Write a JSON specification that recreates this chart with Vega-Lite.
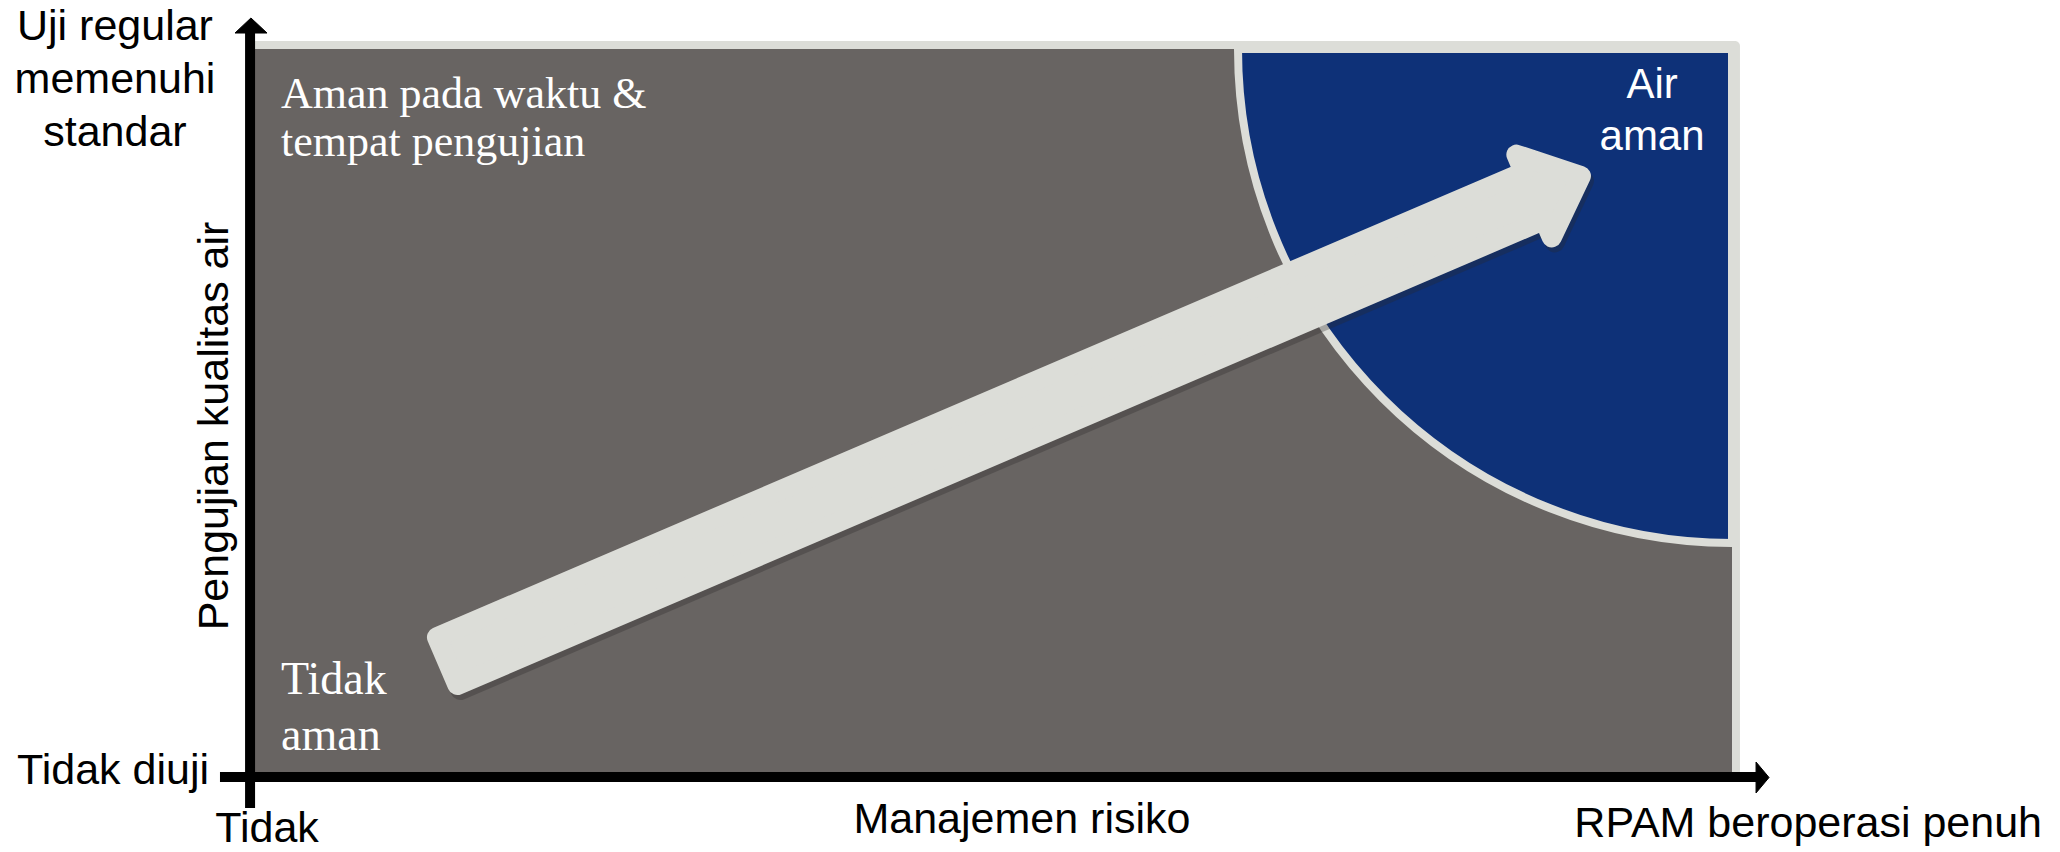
{
  "$schema": "https://vega.github.io/schema/vega-lite/v6.json",
  "width": 1475,
  "height": 723,
  "autosize": {"type": "none"},
  "padding": {"left": 257, "top": 49, "right": 328, "bottom": 80},
  "background": "#ffffff",
  "config": {"view": {"stroke": null}},
  "datasets": {
    "arrow": [
      {"i": 1, "x": 12.20, "y": 18.64},
      {"i": 2, "x": 85.88, "y": 82.97},
      {"i": 3, "x": 85.38, "y": 85.39},
      {"i": 4, "x": 89.76, "y": 82.45},
      {"i": 5, "x": 87.78, "y": 73.94},
      {"i": 6, "x": 87.27, "y": 76.36},
      {"i": 7, "x": 13.59, "y": 12.03}
    ]
  },
  "encoding": {
    "x": {"field": "x", "type": "quantitative", "scale": {"domain": [0, 100], "nice": false, "zero": false}, "axis": null},
    "y": {"field": "y", "type": "quantitative", "scale": {"domain": [0, 100], "nice": false, "zero": false}, "axis": null}
  },
  "layer": [
    {
      "data": {"values": [{"x": -0.47, "x2": 100.54, "y": -0.7, "y2": 101.11}]},
      "mark": {"type": "rect", "color": "#dcddd8", "cornerRadius": 5},
      "encoding": {"x2": {"field": "x2"}, "y2": {"field": "y2"}}
    },
    {
      "data": {"values": [{"x": -0.47, "x2": 100, "y": -0.7, "y2": 100}]},
      "mark": {"type": "rect", "color": "#686462"},
      "encoding": {"x2": {"field": "x2"}, "y2": {"field": "y2"}}
    },
    {
      "data": {"values": [{"x": 100, "y": 100}]},
      "mark": {"type": "arc", "theta": 3.14159, "theta2": 4.71239, "radius": 494, "fill": "#0e3178", "stroke": "#dcddd8", "strokeWidth": 8},
      "encoding": {}
    },
    {
      "data": {"name": "arrow"},
      "mark": {"type": "line", "filled": true, "interpolate": "linear-closed", "fill": "#2a2828", "stroke": "#2a2828", "strokeWidth": 20, "strokeJoin": "round", "opacity": 0.3, "xOffset": 3, "yOffset": 5},
      "encoding": {"order": {"field": "i", "type": "quantitative"}}
    },
    {
      "data": {"name": "arrow"},
      "mark": {"type": "line", "filled": true, "interpolate": "linear-closed", "fill": "#dcddd8", "stroke": "#dcddd8", "strokeWidth": 20, "strokeJoin": "round"},
      "encoding": {"order": {"field": "i", "type": "quantitative"}}
    },
    {
      "data": {"values": [
        {"x": -2.51, "y": -0.69, "x2": 101.7, "y2": -0.69},
        {"x": -0.47, "y": -4.98, "x2": -0.47, "y2": 102.3}
      ]},
      "mark": {"type": "rule", "color": "#000000", "strokeWidth": 10},
      "encoding": {"x2": {"field": "x2"}, "y2": {"field": "y2"}}
    },
    {
      "data": {"values": [
        {"g": "y", "i": 1, "x": -1.49, "y": 102.21},
        {"g": "y", "i": 2, "x": 0.68, "y": 102.21},
        {"g": "y", "i": 3, "x": -0.41, "y": 104.29},
        {"g": "x", "i": 1, "x": 101.63, "y": 1.38},
        {"g": "x", "i": 2, "x": 101.63, "y": -2.9},
        {"g": "x", "i": 3, "x": 102.51, "y": -0.76}
      ]},
      "mark": {"type": "line", "filled": true, "interpolate": "linear-closed", "fill": "#000000", "stroke": "#000000", "strokeWidth": 1},
      "encoding": {"detail": {"field": "g"}, "order": {"field": "i", "type": "quantitative"}}
    },
    {
      "data": {"values": [
        {"t": "Uji regular\nmemenuhi\nstandar", "x": -9.63, "y": 101.24},
        {"t": "Manajemen risiko", "x": 51.86, "y": -8.44},
        {"t": "Tidak", "x": 0.68, "y": -9.68}
      ]},
      "mark": {"type": "text", "font": "Liberation Sans", "fontSize": 43, "align": "center", "baseline": "alphabetic", "lineBreak": "\n", "lineHeight": 53, "color": "#000000"},
      "encoding": {"text": {"field": "t"}}
    },
    {
      "data": {"values": [
        {"t": "Tidak diuji", "x": -3.25, "y": -1.66},
        {"t": "RPAM beroperasi penuh", "x": 121.02, "y": -8.99}
      ]},
      "mark": {"type": "text", "font": "Liberation Sans", "fontSize": 43, "align": "right", "baseline": "alphabetic", "color": "#000000"},
      "encoding": {"text": {"field": "t"}}
    },
    {
      "data": {"values": [{"t": "Pengujian kualitas air", "x": -1.97, "y": 47.86}]},
      "mark": {"type": "text", "font": "Liberation Sans", "fontSize": 43, "align": "center", "baseline": "alphabetic", "angle": 270, "color": "#000000"},
      "encoding": {"text": {"field": "t"}}
    },
    {
      "data": {"values": [{"t": "Air\naman", "x": 94.58, "y": 93.22}]},
      "mark": {"type": "text", "font": "Liberation Sans", "fontSize": 42, "align": "center", "baseline": "alphabetic", "lineBreak": "\n", "lineHeight": 52, "color": "#ffffff"},
      "encoding": {"text": {"field": "t"}}
    },
    {
      "data": {"values": [{"t": "Aman pada waktu &\ntempat pengujian", "x": 1.63, "y": 91.84}]},
      "mark": {"type": "text", "font": "Liberation Serif", "fontSize": 44, "align": "left", "baseline": "alphabetic", "lineBreak": "\n", "lineHeight": 48, "color": "#ffffff"},
      "encoding": {"text": {"field": "t"}}
    },
    {
      "data": {"values": [{"t": "Tidak\naman", "x": 1.63, "y": 10.79}]},
      "mark": {"type": "text", "font": "Liberation Serif", "fontSize": 46, "align": "left", "baseline": "alphabetic", "lineBreak": "\n", "lineHeight": 56, "color": "#ffffff"},
      "encoding": {"text": {"field": "t"}}
    }
  ]
}
